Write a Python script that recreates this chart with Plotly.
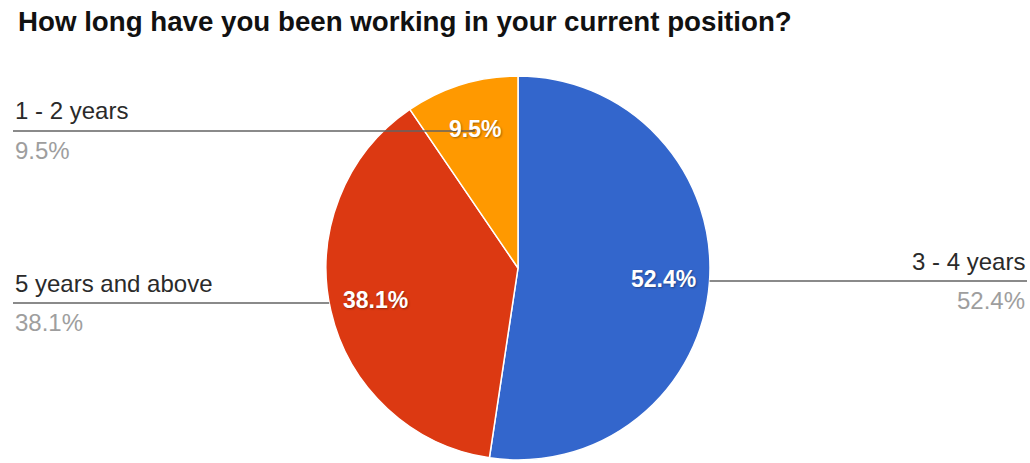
import math
import plotly.graph_objects as go

W, H = 1030, 463

title_text = "How long have you been working in your current position?"
categories = ["3 - 4 years", "5 years and above", "1 - 2 years"]
counts = [11, 8, 2]
colors = ["#3366cc", "#dc3912", "#ff9900"]

total = sum(counts)
pct_labels = [f"{c / total * 100:.1f}%" for c in counts]

# pie geometry (pixels)
CX, CY, R = 518, 268, 192
LABEL_RADIUS = 0.76

def px(x):
    return x / W

def py(y):
    return 1 - y / H

FONT = "Liberation Sans, Arial, sans-serif"

fig = go.Figure()
fig.add_trace(go.Pie(
    labels=categories,
    values=counts,
    sort=False,
    direction="clockwise",
    rotation=0,
    marker=dict(colors=colors, line=dict(color="white", width=1.5)),
    textinfo="none",
    domain=dict(x=[px(CX - R), px(CX + R)], y=[py(CY + R), py(CY - R)]),
    showlegend=False,
    hoverinfo="label+percent",
))

# inside percentage labels placed along each slice's mid-angle
label_pts = []
cum = 0
for c in counts:
    ang = 2 * math.pi * (cum + c / 2) / total
    cum += c
    label_pts.append((CX + LABEL_RADIUS * R * math.sin(ang), CY - LABEL_RADIUS * R * math.cos(ang)))

annotations = []
shapes = []

# outside legend-style labels: (category index, side, leader line y in px, line end mode)
label_layout = [
    (2, "left", 131, "label"),
    (1, "left", 303, "edge"),
    (0, "right", 281, "edge"),
]

for idx, side, ly, mode in label_layout:
    lx = label_pts[idx][0]
    edge_dx = math.sqrt(max(R * R - (ly - CY) ** 2, 0))
    if side == "left":
        ax, xanchor = 13, "left"
        end = lx if mode == "label" else CX - edge_dx
        x0, x1 = 13, end
    else:
        ax, xanchor = 1027, "right"
        start = lx if mode == "label" else CX + edge_dx
        x0, x1 = start, 1027
    annotations.append(dict(
        x=px(ax), y=py(ly - 20), xref="paper", yref="paper", xanchor=xanchor, yanchor="middle",
        text=categories[idx], showarrow=False,
        font=dict(family=FONT, size=24, color="#2a2a2a"),
    ))
    annotations.append(dict(
        x=px(ax), y=py(ly + 19), xref="paper", yref="paper", xanchor=xanchor, yanchor="middle",
        text=pct_labels[idx], showarrow=False,
        font=dict(family=FONT, size=24, color="#9e9e9e"),
    ))
    shapes.append(dict(
        type="line", xref="paper", yref="paper", x0=px(x0), x1=px(x1), y0=py(ly), y1=py(ly),
        line=dict(color="#636363", width=1.5), layer="above",
    ))

for (lx, ly), txt in zip(label_pts, pct_labels):
    annotations.append(dict(
        x=px(lx), y=py(ly), xref="paper", yref="paper", xanchor="center", yanchor="middle",
        text=f"<b>{txt}</b>", showarrow=False,
        font=dict(family=FONT, size=23, color="white", shadow="1px 1px 2px rgba(0,0,0,0.35)"),
    ))

annotations.append(dict(
    x=px(16), y=py(21), xref="paper", yref="paper", xanchor="left", yanchor="middle",
    text=f"<b>{title_text}</b>", showarrow=False,
    font=dict(family=FONT, size=27.7, color="#111111"),
))

fig.update_layout(
    width=W, height=H,
    margin=dict(l=0, r=0, t=0, b=0),
    paper_bgcolor="white", plot_bgcolor="white",
    annotations=annotations, shapes=shapes,
)

fig.write_html("out.html", config={"displayModeBar": False},
               post_script="document.body.style.margin='0';")
